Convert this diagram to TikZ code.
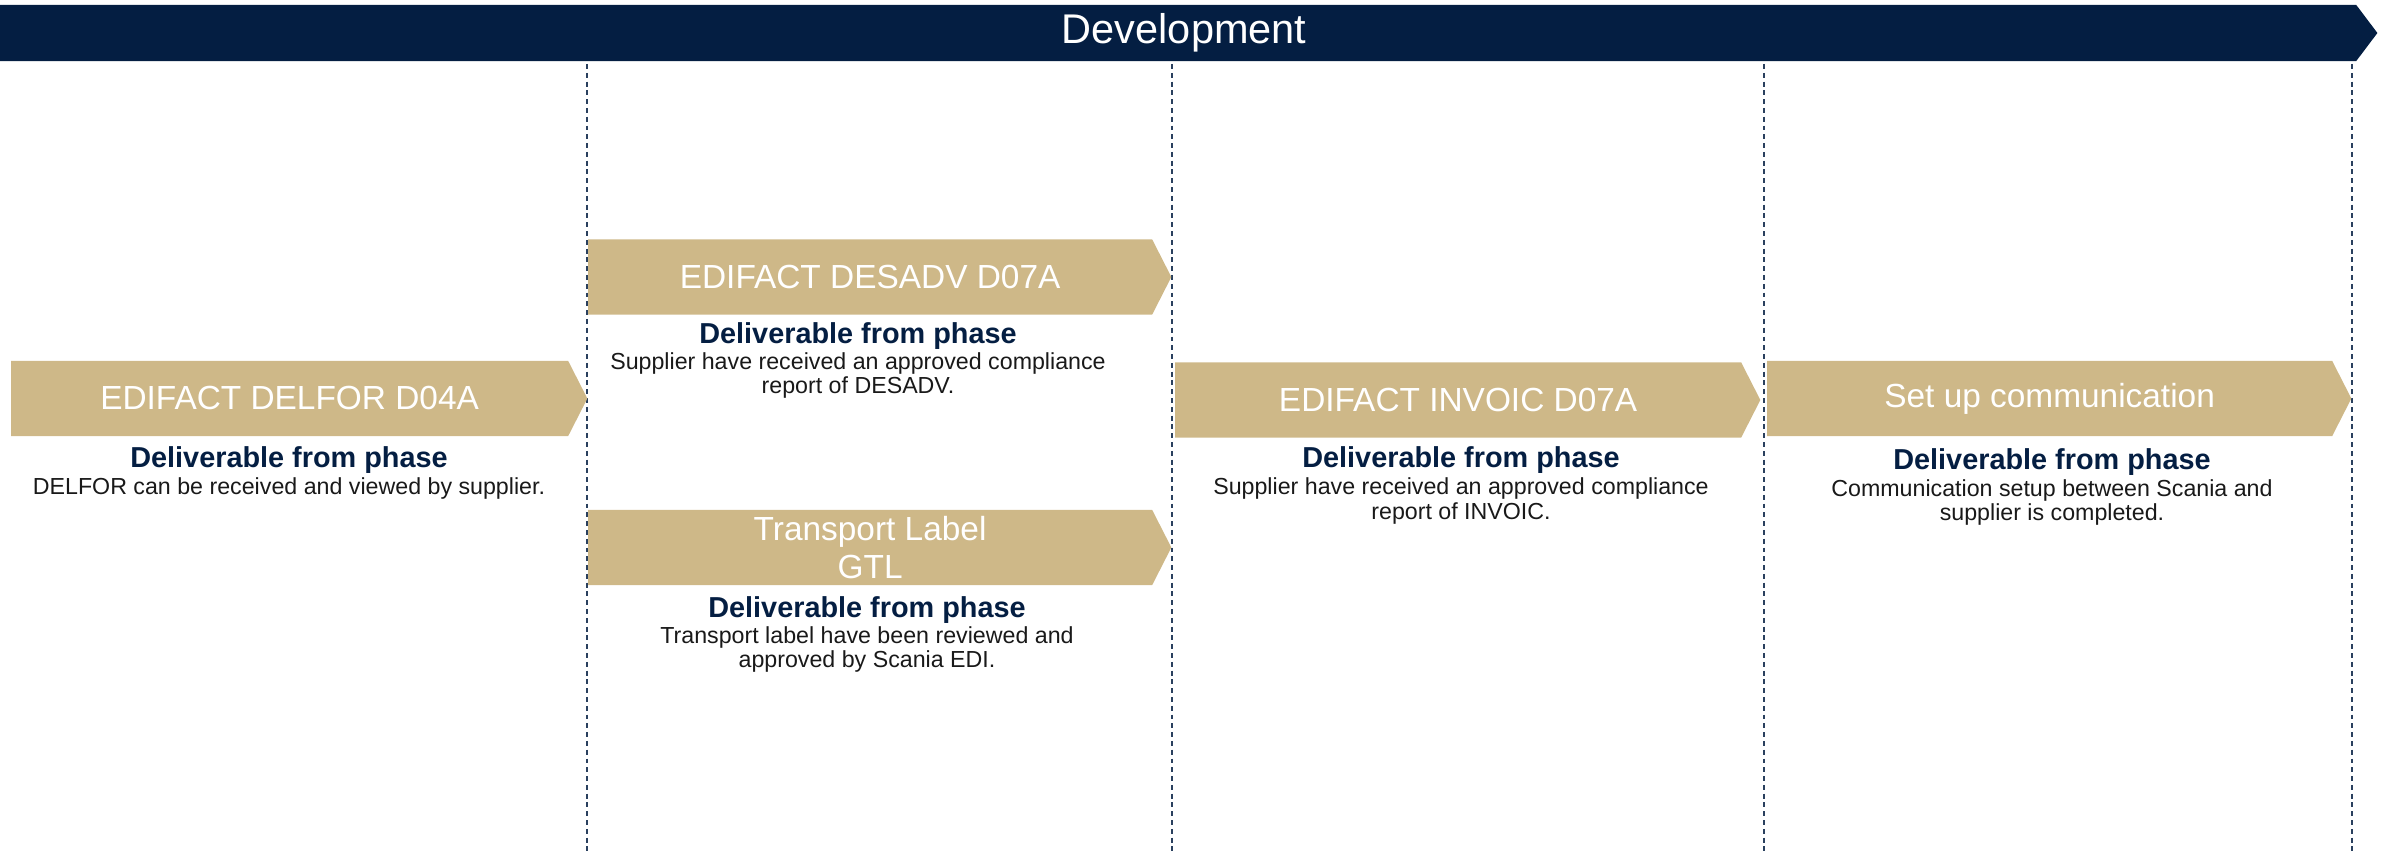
\documentclass[tikz,border=0pt]{standalone}
\usepackage{fontspec}
\setmainfont{Liberation Sans}
\usetikzlibrary{shapes.symbols}
\definecolor{scanianavy}{HTML}{041E42}
\definecolor{phasegold}{HTML}{CEB888}
\tikzset{
  phasebar/.style={signal, signal to=east, signal pointer angle=106, fill=scanianavy, text=white,
    inner sep=0pt, outer sep=0pt, minimum height=0.56cm, anchor=west,
    font=\fontsize{11.8}{13}\selectfont},
  phase/.style={signal, signal to=east, signal pointer angle=126, fill=phasegold, text=white,
    inner sep=0pt, outer sep=0pt, minimum height=0.75cm, anchor=west, align=center,
    font=\fontsize{9.5}{10.8}\selectfont},
  head/.style={text=scanianavy, inner sep=0pt, font=\bfseries\fontsize{8.2}{9}\selectfont},
  desc/.style={text=black!90, inner sep=0pt, align=center, font=\fontsize{6.6}{6.9}\selectfont},
  divider/.style={draw=scanianavy!85, line width=0.6pt, dash pattern=on 1.4pt off 1.1pt}
}
\begin{document}
\begin{tikzpicture}[x=0.01cm,y=-0.01cm]
  \useasboundingbox (0,0) rectangle (2381,855);
  % phase dividers
  \foreach \x [count=\i] in {587,1172,1764,2352} {
    \coordinate (top\i) at (\x,64);
    \coordinate (bot\i) at (\x,855);
    \draw[divider] (top\i) -- (bot\i);
  }

  \node[phasebar, minimum width=23.76cm] (dev) at (0,33) {\hspace{0.12cm}Development};

  \node[phase, minimum width=5.76cm] (delfor) at (11,398.5) {EDIFACT DELFOR D04A};
  \node[phase, minimum width=5.83cm] (desadv) at (588,277) {EDIFACT DESADV D07A};
  \node[phase, minimum width=5.83cm] (gtl) at (588,547.5) {Transport Label\\GTL};
  \node[phase, minimum width=5.85cm] (invoic) at (1175,400) {EDIFACT INVOIC D07A};
  \node[phase, minimum width=5.84cm] (comm) at (1767,398.5) {Set up communication};

  \node[head] (h1) at (289,460) {Deliverable from phase};
  \node[desc] (d1) at (289,489) {DELFOR can be received and viewed by supplier.};

  \node[head] (h2) at (858,336) {Deliverable from phase};
  \node[desc] (d2) at (858,375.5) {Supplier have received an approved compliance\\report of DESADV.};

  \node[head] (h3) at (867,610) {Deliverable from phase};
  \node[desc] (d3) at (867,649.5) {Transport label have been reviewed and\\approved by Scania EDI.};

  \node[head] (h4) at (1461,460) {Deliverable from phase};
  \node[desc] (d4) at (1461,501) {Supplier have received an approved compliance\\report of INVOIC.};

  \node[head] (h5) at (2052,462) {Deliverable from phase};
  \node[desc] (d5) at (2052,502.5) {Communication setup between Scania and\\supplier is completed.};
\end{tikzpicture}
\end{document}
